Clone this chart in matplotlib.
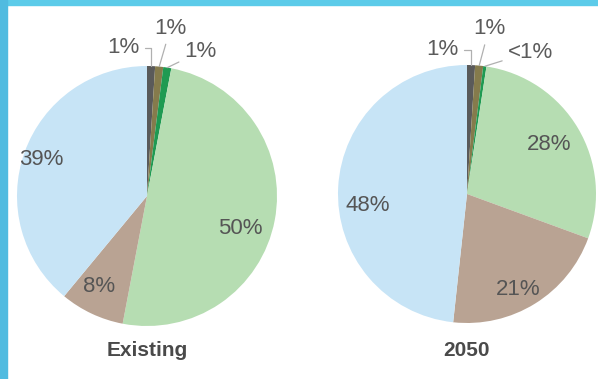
import matplotlib.pyplot as plt
import matplotlib.patches as mpatches
import numpy as np

# data (clockwise from 12 o'clock)
titles = ["Existing", "2050"]
shares_existing = [1, 1, 1, 50, 8, 39]
shares_2050 = [1, 1, 0.4, 28, 21, 48]
labels_existing = ["1%", "1%", "1%", "50%", "8%", "39%"]
labels_2050 = ["1%", "1%", "<1%", "28%", "21%", "48%"]
colors = ["#5a5a5a", "#857b4c", "#1f9a52", "#b6ddb2", "#b9a393", "#c7e4f6"]

plt.rcParams['font.family'] = ['Liberation Sans', 'DejaVu Sans']

fig = plt.figure(figsize=(5.98, 3.79), dpi=100)
W, H = 598, 379

# frame bands
fig.patches.append(mpatches.Rectangle((0, 1 - 5 / H), 1, 5 / H, transform=fig.transFigure,
                                      color="#5ccbe9", zorder=0))
fig.patches.append(mpatches.Rectangle((0, 0), 7 / W, 1, transform=fig.transFigure,
                                      color="#50bbe0", zorder=0))

centers = [(147, 196, 130), (467, 194, 129)]
# label centres in axes data units (pie radius = 1)
label_pos = [[(-0.18, 1.14), (0.18, 1.29), (0.41, 1.11), (0.72, -0.25), (-0.37, -0.70), (-0.81, 0.28)],
             [(-0.19, 1.12), (0.17, 1.28), (0.49, 1.10), (0.64, 0.38), (0.40, -0.74), (-0.77, -0.09)]]
conn = ["angle,angleA=0,angleB=90,rad=0", "arc3", "arc3"]

for k, (shares, labels) in enumerate([(shares_existing, labels_existing),
                                      (shares_2050, labels_2050)]):
    cx, cy, r = centers[k]
    ax = fig.add_axes([(cx - r) / W, (H - cy - r) / H, 2 * r / W, 2 * r / H])
    wedges, _ = ax.pie(shares, colors=colors, startangle=90, counterclock=False,
                       wedgeprops=dict(linewidth=0))
    ax.set_xlim(-1, 1)
    ax.set_ylim(-1, 1)
    ax.set_aspect('auto')
    ax.axis('off')
    for i, w in enumerate(wedges):
        mid = np.deg2rad((w.theta1 + w.theta2) / 2)
        tx, ty = label_pos[k][i]
        if i < 3:
            ax.annotate(labels[i], xy=(np.cos(mid), np.sin(mid)), xytext=(tx, ty),
                        ha="center", va="center", fontsize=16, color="#5b5b5b",
                        annotation_clip=False,
                        arrowprops=dict(arrowstyle="-", color="#b0b0b0", lw=0.9,
                                        shrinkA=2, shrinkB=0, connectionstyle=conn[i]))
        else:
            ax.text(tx, ty, labels[i], ha="center", va="center",
                    fontsize=16, color="#555555")
    fig.text(cx / W, 1 - 350 / H, titles[k], ha="center", va="center", fontsize=15,
             fontweight="bold", color="#4a4a4a")

plt.savefig("out.png", dpi=100)
